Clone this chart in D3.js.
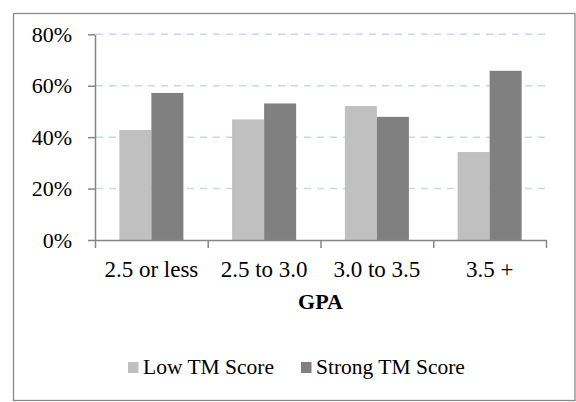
<!DOCTYPE html>
<html>
<head>
<meta charset="utf-8">
<script src="https://cdn.jsdelivr.net/npm/d3@7"></script>
<style>
  body { margin: 0; background: #fff; }
  text { font-family: "Liberation Serif", "Times New Roman", serif; fill: #000; }
</style>
</head>
<body>
<div id="chart"></div>
<script>
// Data
const categories = ["2.5 or less", "2.5 to 3.0", "3.0 to 3.5", "3.5 +"];
const seriesNames = ["Low TM Score", "Strong TM Score"];
const lowValues = [0.428, 0.469, 0.521, 0.342];
const strongValues = [0.572, 0.531, 0.479, 0.658];
const yTicks = [0, 0.2, 0.4, 0.6, 0.8];
const colors = ["#c0c0c0", "#808080"];

const W = 576, H = 402;
const plot = { left: 95, right: 546, top: 34.3, bottom: 240 };

const svg = d3.select("#chart")
    .append("svg")
    .attr("width", W)
    .attr("height", H);

// Outer frame
svg.append("rect")
    .attr("x", 13.5)
    .attr("y", 13.5)
    .attr("width", 561.5)
    .attr("height", 387)
    .style("fill", "none")
    .style("stroke", "#8a8a8a")
    .style("stroke-width", 1.3);

// Scales
const x = d3.scaleBand()
    .domain(categories)
    .range([plot.left, plot.right])
    .paddingInner(0.432)
    .paddingOuter(0.216);

const xSub = d3.scaleBand()
    .domain(seriesNames)
    .range([0, x.bandwidth()]);

const y = d3.scaleLinear()
    .domain([0, 0.8])
    .range([plot.bottom, plot.top]);

// Gridlines
svg.append("g")
    .selectAll("line")
    .data(yTicks.filter(d => d > 0))
    .enter()
    .append("line")
    .attr("x1", plot.left + 1)
    .attr("x2", plot.right)
    .attr("y1", d => y(d))
    .attr("y2", d => y(d))
    .style("stroke", "#c6d9f1")
    .style("stroke-width", 1.5)
    .style("stroke-dasharray", "7,6");

// Bars
const rows = categories.map((c, i) => ({ cat: c, values: [lowValues[i], strongValues[i]] }));

const groups = svg.append("g")
    .selectAll("g")
    .data(rows)
    .enter()
    .append("g")
    .attr("transform", d => `translate(${x(d.cat)},0)`);

groups.selectAll("rect")
    .data(d => d.values.map((v, j) => ({ name: seriesNames[j], value: v, j })))
    .enter()
    .append("rect")
    .attr("x", d => xSub(d.name))
    .attr("width", xSub.bandwidth())
    .attr("y", d => y(d.value))
    .attr("height", d => plot.bottom - y(d.value))
    .style("fill", d => colors[d.j]);

// Y axis
const yAxis = svg.append("g")
    .attr("transform", `translate(${plot.left},0)`)
    .call(d3.axisLeft(y).tickValues(yTicks).tickFormat(d3.format(".0%")).tickSizeInner(7).tickSizeOuter(0).tickPadding(16));

yAxis.select(".domain").style("stroke", "#868686").style("stroke-width", 1.5);
yAxis.selectAll(".tick line").style("stroke", "#868686").style("stroke-width", 1.5);
yAxis.selectAll(".tick text")
    .style("font-family", "Liberation Serif")
    .style("font-size", "22px")
    .attr("fill", "#000");

// X axis: tick marks at category boundaries
const xEdges = d3.scaleLinear()
    .domain([0, categories.length])
    .range([plot.left, plot.right]);

const xAxis = svg.append("g")
    .attr("transform", `translate(0,${plot.bottom})`)
    .call(d3.axisBottom(xEdges).tickValues(d3.range(categories.length + 1)).tickFormat("").tickSizeInner(8).tickSizeOuter(0));

xAxis.select(".domain").style("stroke", "#868686").style("stroke-width", 1.5);
xAxis.selectAll(".tick line").style("stroke", "#868686").style("stroke-width", 1.5);

// Category labels
svg.append("g")
    .selectAll("text")
    .data(categories)
    .enter()
    .append("text")
    .attr("x", d => x(d) + x.bandwidth() / 2)
    .attr("y", 277)
    .style("text-anchor", "middle")
    .style("font-size", "23px")
    .text(d => d);

// Axis title
svg.append("text")
    .attr("x", (plot.left + plot.right) / 2)
    .attr("y", 309)
    .style("text-anchor", "middle")
    .style("font-size", "22px")
    .style("font-weight", "bold")
    .text("GPA");

// Legend
const legendX = [128, 301];
const legend = svg.append("g")
    .selectAll("g")
    .data(seriesNames)
    .enter()
    .append("g")
    .attr("transform", (d, i) => `translate(${legendX[i]},0)`);

legend.append("rect")
    .attr("x", 0)
    .attr("y", 362)
    .attr("width", 10.5)
    .attr("height", 11)
    .style("fill", (d, i) => colors[i]);

legend.append("text")
    .attr("x", 15)
    .attr("y", 374)
    .style("font-size", "21.5px")
    .text(d => d);
</script>
</body>
</html>
